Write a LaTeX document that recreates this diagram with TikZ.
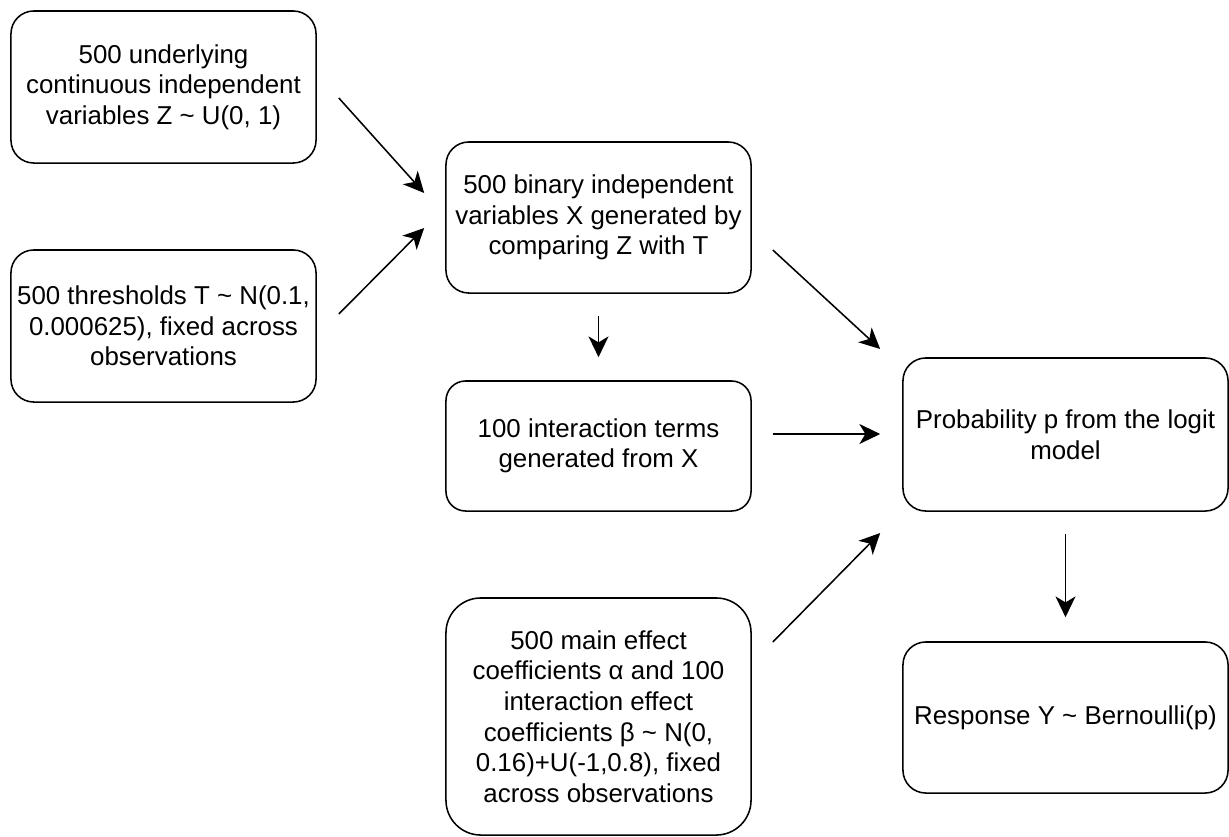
\documentclass[tikz,border=0pt]{standalone}
\usepackage{fontspec}
\setmainfont{Liberation Sans}
\usetikzlibrary{arrows.meta,calc}

\begin{document}
\begin{tikzpicture}[
  x=0.025cm,y=-0.025cm,
  font=\fontsize{18.4}{21.7}\selectfont,
  box/.style={draw,rounded corners=5.7mm,line width=1.1pt,inner sep=0pt,
              minimum width=7.625cm,minimum height=3.8cm,align=center},
  arr/.style={-{Stealth[length=5.2mm,width=5mm,inset=1.5mm]},line width=1.1pt}
]
\useasboundingbox (0,0) rectangle (1229,836);

% inputs on the left
\node[box] (zvar) at (163.5,87) {500 underlying\\continuous independent\\variables Z \textasciitilde{} U(0, 1)};
\node[box] (thr) at (163.5,326) {500 thresholds T \textasciitilde{} N(0.1,\\0.000625), fixed across\\observations};

% middle column
\node[box,minimum height=3.775cm] (xbin) at (598.5,217.5) {500 binary independent\\variables X generated by\\comparing Z with T};
\node[box,minimum height=3.25cm,rounded corners=4.9mm] (inter) at (598.5,446) {100 interaction terms\\generated from X};
\node[box,minimum height=5.925cm,rounded corners=8.7mm] (coef) at (598.5,716.5) {500 main effect\\coefficients α and 100\\interaction effect\\coefficients β \textasciitilde{} N(0,\\0.16)+U(-1,0.8), fixed\\across observations};

% outputs on the right
\node[box,minimum width=8.125cm,minimum height=3.825cm] (prob) at (1065.5,434.5) {Probability p from the logit\\model};
\node[box,minimum width=8.125cm,minimum height=3.775cm] (resp) at (1065.5,717.5) {Response Y \textasciitilde{} Bernoulli(p)};

\draw[arr] ([shift={(22,11)}]zvar.east) -- ([shift={(-21,-24.5)}]xbin.west);
\draw[arr] ([shift={(22,-12)}]thr.east) -- ([shift={(-21,10.5)}]xbin.west);
\draw[arr] ([shift={(0,22)}]xbin.south) -- ([shift={(0,-23)}]inter.north);
\draw[arr] ([shift={(21,32.5)}]xbin.east) -- ([shift={(-22,-85.5)}]prob.west);
\draw[arr] ([shift={(21,-12)}]inter.east) -- ([shift={(-22,-0.5)}]prob.west);
\draw[arr] ([shift={(21,-74.5)}]coef.east) -- ([shift={(-22,98.5)}]prob.west);
\draw[arr] ([shift={(0,22)}]prob.south) -- ([shift={(0,-24)}]resp.north);
\end{tikzpicture}
\end{document}
